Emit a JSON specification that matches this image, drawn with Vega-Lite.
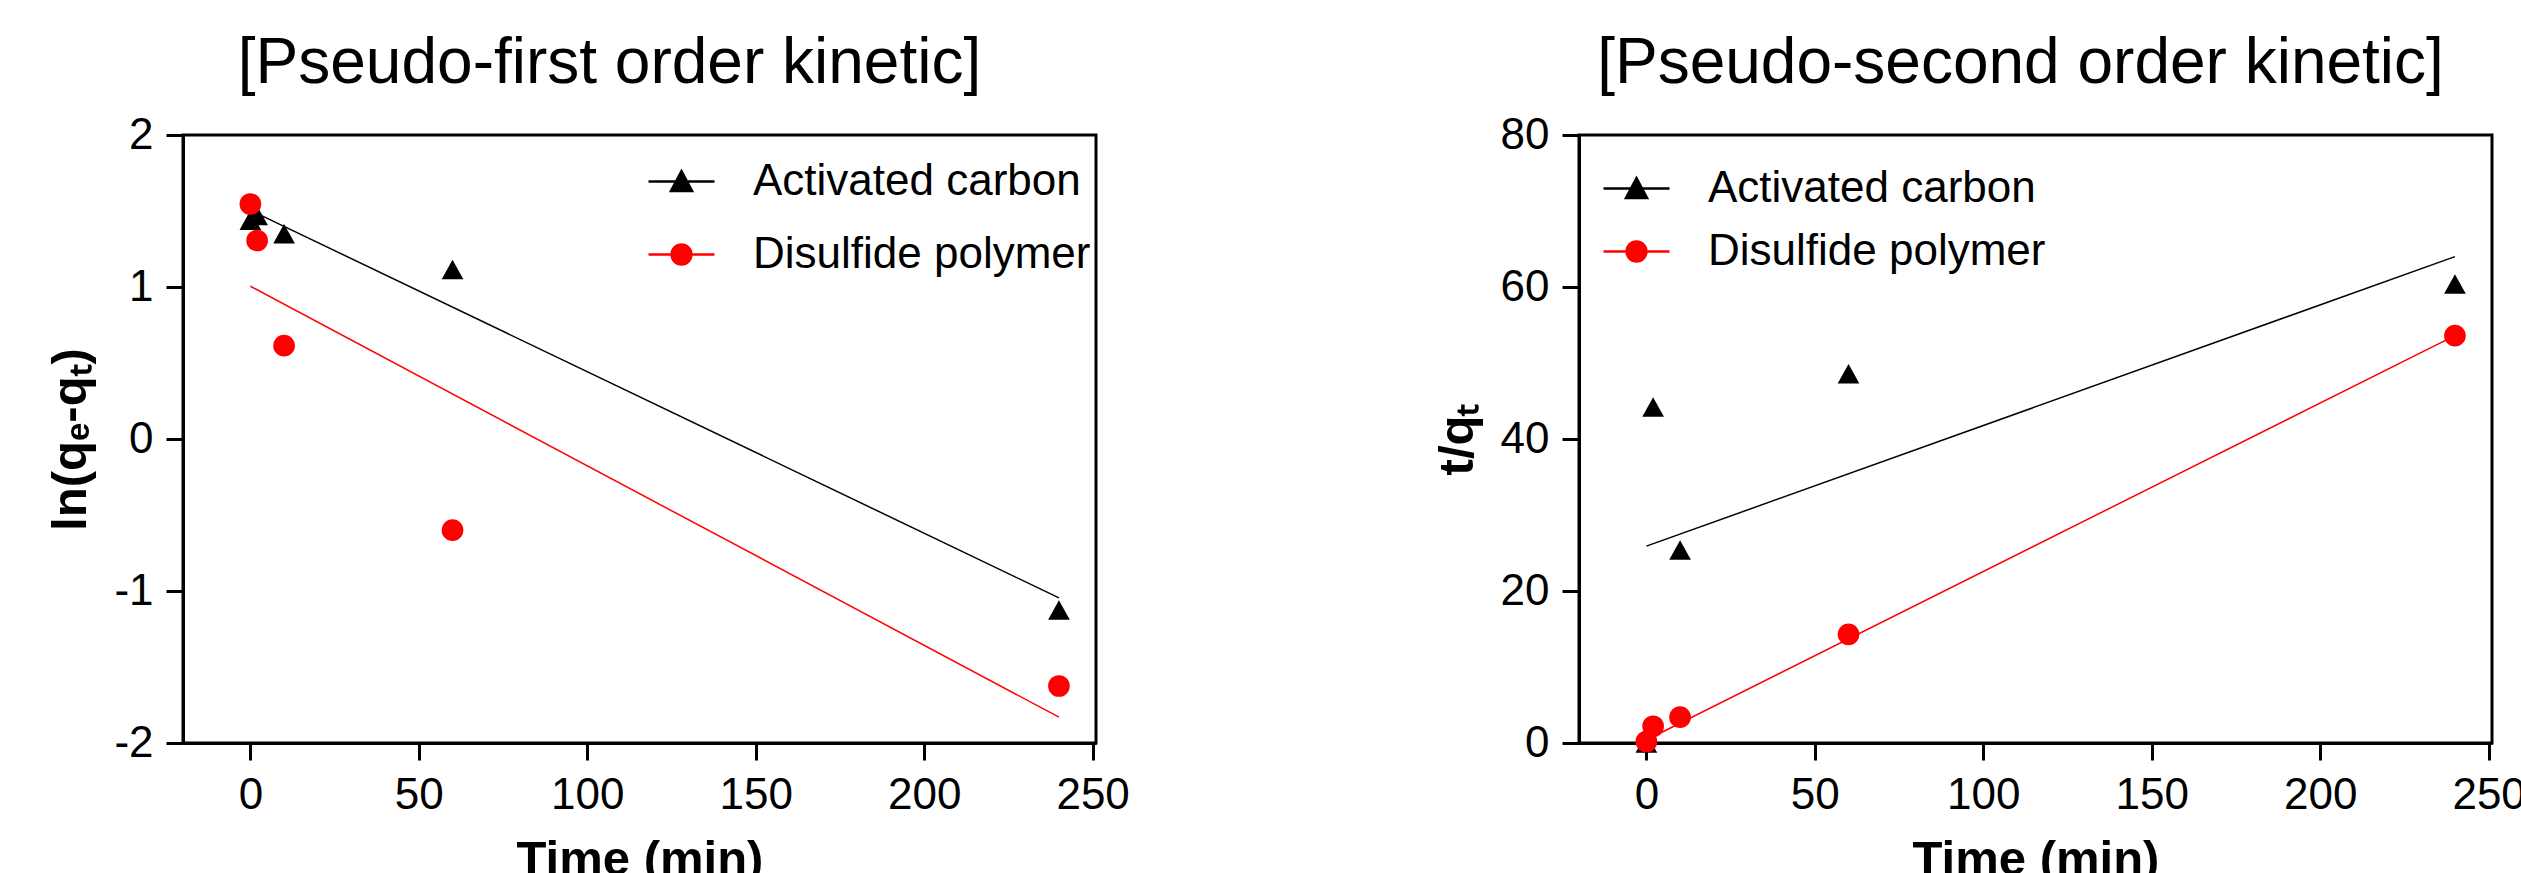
{
  "$schema": "https://vega.github.io/schema/vega-lite/v6.json",
  "background": "white",
  "padding": {"left": 45, "top": 30, "right": 0, "bottom": 0},
  "datasets": {
    "pfo_points": [
      {"time": 0, "value": 1.44, "series": "Activated carbon"},
      {"time": 2, "value": 1.47, "series": "Activated carbon"},
      {"time": 10, "value": 1.35, "series": "Activated carbon"},
      {"time": 60, "value": 1.115, "series": "Activated carbon"},
      {"time": 240, "value": -1.125, "series": "Activated carbon"},
      {"time": 0, "value": 1.546, "series": "Disulfide polymer"},
      {"time": 2, "value": 1.306, "series": "Disulfide polymer"},
      {"time": 10, "value": 0.614, "series": "Disulfide polymer"},
      {"time": 60, "value": -0.6, "series": "Disulfide polymer"},
      {"time": 240, "value": -1.625, "series": "Disulfide polymer"}
    ],
    "pfo_fit": [
      {"time": 0, "value": 1.505, "series": "Activated carbon"},
      {"time": 240, "value": -1.045, "series": "Activated carbon"},
      {"time": 0, "value": 1.005, "series": "Disulfide polymer"},
      {"time": 240, "value": -1.83, "series": "Disulfide polymer"}
    ],
    "pso_points": [
      {"time": 0, "value": 0, "series": "Activated carbon"},
      {"time": 2, "value": 44.2, "series": "Activated carbon"},
      {"time": 10, "value": 25.4, "series": "Activated carbon"},
      {"time": 60, "value": 48.6, "series": "Activated carbon"},
      {"time": 240, "value": 60.4, "series": "Activated carbon"},
      {"time": 0, "value": 0.2, "series": "Disulfide polymer"},
      {"time": 2, "value": 2.2, "series": "Disulfide polymer"},
      {"time": 10, "value": 3.4, "series": "Disulfide polymer"},
      {"time": 60, "value": 14.3, "series": "Disulfide polymer"},
      {"time": 240, "value": 53.6, "series": "Disulfide polymer"}
    ],
    "pso_fit": [
      {"time": 0, "value": 25.9, "series": "Activated carbon"},
      {"time": 240, "value": 64.0, "series": "Activated carbon"},
      {"time": 0, "value": 0.4, "series": "Disulfide polymer"},
      {"time": 240, "value": 53.6, "series": "Disulfide polymer"}
    ]
  },
  "config": {
    "font": "Liberation Sans",
    "view": {"stroke": "black", "strokeWidth": 3},
    "axis": {
      "grid": false,
      "domainColor": "black",
      "domainWidth": 3,
      "tickColor": "black",
      "tickWidth": 3,
      "tickSize": 17,
      "labelFont": "Liberation Sans",
      "labelFontSize": 44,
      "labelColor": "black",
      "labelPadding": 13,
      "labelFlush": false,
      "labelOverlap": false,
      "titleFont": "Liberation Sans",
      "titleFontSize": 49,
      "titleFontWeight": "bold",
      "titleColor": "black",
      "titlePadding": 18
    },
    "title": {"font": "Liberation Sans", "fontSize": 64, "fontWeight": "normal", "color": "black", "anchor": "middle", "frame": "group", "offset": 17},
    "legend": {
      "title": null,
      "orient": "none",
      "labelFont": "Liberation Sans",
      "labelFontSize": 44,
      "labelColor": "black",
      "labelLimit": 0,
      "labelOffset": 37,
      "symbolSize": 4356,
      "symbolStrokeWidth": 2.5,
      "symbolOpacity": 1
    }
  },
  "resolve": {
    "scale": {"fill": "independent", "stroke": "independent", "shape": "independent"},
    "legend": {"fill": "independent", "stroke": "independent", "shape": "independent"}
  },
  "hconcat": [
    {
      "width": 913,
      "height": 608,
      "title": {"text": "[Pseudo-first order kinetic]", "dx": -30},
      "layer": [
        {
          "data": {"name": "pfo_fit"},
          "mark": {"type": "line", "strokeWidth": 1.5},
          "encoding": {
            "x": {"field": "time", "type": "quantitative", "scale": {"domain": [-20, 251], "nice": false, "zero": false}, "axis": {"values": [0, 50, 100, 150, 200, 250], "title": "Time (min)"}},
            "y": {"field": "value", "type": "quantitative", "scale": {"domain": [-2, 2], "nice": false, "zero": false}, "axis": {"values": [-2, -1, 0, 1, 2], "title": "ln(qₑ-qₜ)", "labelExpr": "datum.value < 0 ? '-' + abs(datum.value) : '' + datum.value"}},
            "detail": {"field": "series", "type": "nominal"},
            "color": {"condition": {"test": "datum.series === 'Activated carbon'", "value": "#000000"}, "value": "#ff0000"}
          }
        },
        {
          "data": {"name": "pfo_points"},
          "transform": [{"filter": "datum.series === 'Activated carbon'"}],
          "mark": {"type": "point", "filled": true, "size": 470, "opacity": 1, "shape": "M-1,0.9L0,-0.9L1,0.9Z", "color": "#000000"},
          "encoding": {
            "x": {"field": "time", "type": "quantitative"},
            "y": {"field": "value", "type": "quantitative"}
          }
        },
        {
          "data": {"name": "pfo_points"},
          "transform": [{"filter": "datum.series === 'Disulfide polymer'"}],
          "mark": {"type": "point", "filled": true, "size": 470, "opacity": 1, "shape": "circle", "color": "#ff0000"},
          "encoding": {
            "x": {"field": "time", "type": "quantitative"},
            "y": {"field": "value", "type": "quantitative"}
          }
        },
        {
          "data": {"name": "pfo_points"},
          "mark": {"type": "point", "filled": true, "opacity": 0},
          "encoding": {
            "x": {"field": "time", "type": "quantitative"},
            "y": {"field": "value", "type": "quantitative"},
            "fill": {"field": "series", "type": "nominal", "scale": {"domain": ["Activated carbon", "Disulfide polymer"], "range": ["#000000", "#ff0000"]}, "legend": {"legendX": 464, "legendY": 12, "rowPadding": 16, "symbolOpacity": 1}},
            "stroke": {"field": "series", "type": "nominal", "scale": {"domain": ["Activated carbon", "Disulfide polymer"], "range": ["#000000", "#ff0000"]}, "legend": {"legendX": 464, "legendY": 12, "rowPadding": 16, "symbolOpacity": 1}},
            "shape": {"field": "series", "type": "nominal", "scale": {"domain": ["Activated carbon", "Disulfide polymer"], "range": ["M-1,0H1M-0.32,0.29L0,-0.31L0.32,0.29Z", "M-1,0H1M-0.3,0A0.3,0.3,0,1,0,0.3,0A0.3,0.3,0,1,0,-0.3,0Z"]}, "legend": {"legendX": 464, "legendY": 12, "rowPadding": 16, "symbolOpacity": 1}}
          }
        }
      ]
    },
    {
      "width": 913,
      "height": 608,
      "title": {"text": "[Pseudo-second order kinetic]", "dx": -15},
      "layer": [
        {
          "data": {"name": "pso_fit"},
          "mark": {"type": "line", "strokeWidth": 1.5},
          "encoding": {
            "x": {"field": "time", "type": "quantitative", "scale": {"domain": [-20, 251], "nice": false, "zero": false}, "axis": {"values": [0, 50, 100, 150, 200, 250], "title": "Time (min)"}},
            "y": {"field": "value", "type": "quantitative", "scale": {"domain": [0, 80], "nice": false, "zero": false}, "axis": {"values": [0, 20, 40, 60, 80], "title": "t/qₜ"}},
            "detail": {"field": "series", "type": "nominal"},
            "color": {"condition": {"test": "datum.series === 'Activated carbon'", "value": "#000000"}, "value": "#ff0000"}
          }
        },
        {
          "data": {"name": "pso_points"},
          "transform": [{"filter": "datum.series === 'Activated carbon'"}],
          "mark": {"type": "point", "filled": true, "size": 470, "opacity": 1, "shape": "M-1,0.9L0,-0.9L1,0.9Z", "color": "#000000"},
          "encoding": {
            "x": {"field": "time", "type": "quantitative"},
            "y": {"field": "value", "type": "quantitative"}
          }
        },
        {
          "data": {"name": "pso_points"},
          "transform": [{"filter": "datum.series === 'Disulfide polymer'"}],
          "mark": {"type": "point", "filled": true, "size": 470, "opacity": 1, "shape": "circle", "color": "#ff0000"},
          "encoding": {
            "x": {"field": "time", "type": "quantitative"},
            "y": {"field": "value", "type": "quantitative"}
          }
        },
        {
          "data": {"name": "pso_points"},
          "mark": {"type": "point", "filled": true, "opacity": 0},
          "encoding": {
            "x": {"field": "time", "type": "quantitative"},
            "y": {"field": "value", "type": "quantitative"},
            "fill": {"field": "series", "type": "nominal", "scale": {"domain": ["Activated carbon", "Disulfide polymer"], "range": ["#000000", "#ff0000"]}, "legend": {"legendX": 23, "legendY": 19, "rowPadding": 6, "symbolOpacity": 1}},
            "stroke": {"field": "series", "type": "nominal", "scale": {"domain": ["Activated carbon", "Disulfide polymer"], "range": ["#000000", "#ff0000"]}, "legend": {"legendX": 23, "legendY": 19, "rowPadding": 6, "symbolOpacity": 1}},
            "shape": {"field": "series", "type": "nominal", "scale": {"domain": ["Activated carbon", "Disulfide polymer"], "range": ["M-1,0H1M-0.32,0.29L0,-0.31L0.32,0.29Z", "M-1,0H1M-0.3,0A0.3,0.3,0,1,0,0.3,0A0.3,0.3,0,1,0,-0.3,0Z"]}, "legend": {"legendX": 23, "legendY": 19, "rowPadding": 6, "symbolOpacity": 1}}
          }
        }
      ]
    }
  ],
  "spacing": 300
}
